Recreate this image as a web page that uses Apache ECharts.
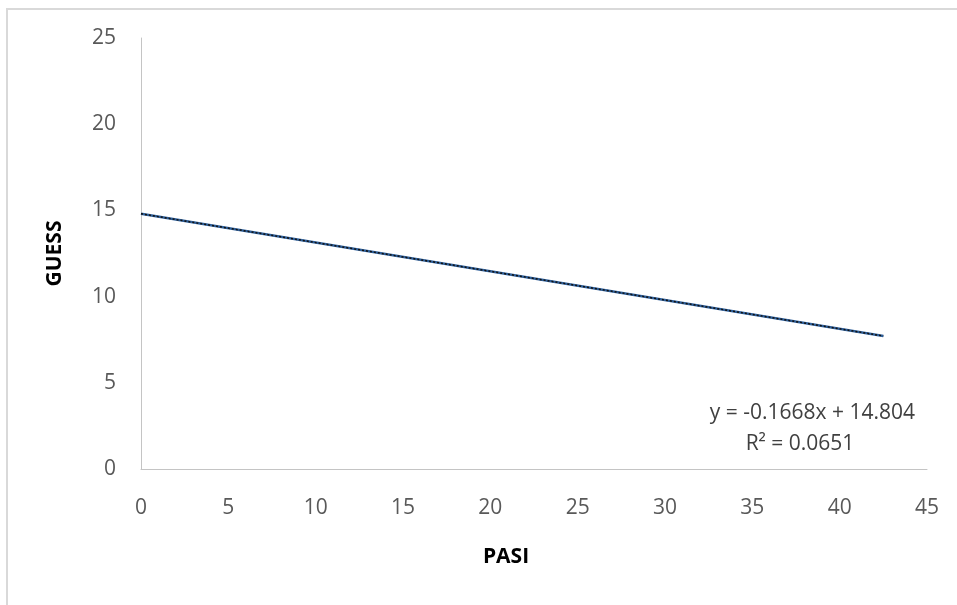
<!DOCTYPE html>
<html><head><meta charset="utf-8">
<script src="https://cdn.jsdelivr.net/npm/echarts@6/dist/echarts.min.js"></script>
<style>html,body{margin:0;padding:0;background:#fff}#c{width:957px;height:605px}</style>
</head><body><div id="c"></div>
<script>
const pasi = [0, 42.5];
const guess = [14.804, 7.715];
const equationText = 'y = -0.1668x + 14.804';
const r2Text = 'R² = 0.0651';
const xTitle = 'PASI';
const yTitle = 'GUESS';

const pts = pasi.map((x, i) => [x, guess[i]]);
const chart = echarts.init(document.getElementById('c'), null, {renderer: 'canvas'});
const font = '"Open Sans", "Liberation Sans", sans-serif';
chart.setOption({
  animation: false,
  backgroundColor: '#fff',
  grid: {left: 141, top: 38, right: 30, bottom: 136},
  xAxis: {
    type: 'value', min: 0, max: 45, interval: 5,
    axisLine: {show: true, lineStyle: {color: '#c4c4c4', width: 1}},
    axisTick: {show: false},
    splitLine: {show: false},
    axisLabel: {color: '#595959', fontSize: 21, fontFamily: font, margin: 29}
  },
  yAxis: {
    type: 'value', min: 0, max: 25, interval: 5,
    axisLine: {show: true, lineStyle: {color: '#c4c4c4', width: 1}},
    axisTick: {show: false},
    splitLine: {show: false},
    axisLabel: {color: '#595959', fontSize: 21, fontFamily: font, margin: 25},
    name: yTitle, nameLocation: 'middle', nameGap: 75, nameRotate: 90,
    nameTextStyle: {color: '#000', fontSize: 21, fontWeight: 'bold', fontFamily: font}
  },
  series: [
    {type: 'line', data: pts, showSymbol: false, lineStyle: {color: '#2e5f9a', width: 2.5}, z: 2},
    {type: 'line', data: pts, showSymbol: false, lineStyle: {color: '#111', width: 1.5, type: [2, 2]}, z: 3}
  ],
  graphic: [
    {type: 'rect', shape: {x: 7, y: 9, width: 970, height: 620}, style: {fill: 'none', stroke: '#d9d9d9', lineWidth: 2}, silent: true, z: -1},
    {type: 'text', x: 506, y: 557, style: {text: xTitle, fill: '#000', fontSize: 21, fontWeight: 'bold', fontFamily: font, align: 'center', verticalAlign: 'middle'}},
    {type: 'text', x: 915, y: 413, style: {text: equationText, fill: '#404040', fontSize: 21, fontFamily: font, align: 'right', verticalAlign: 'middle'}},
    {type: 'text', x: 800, y: 444, style: {text: r2Text, fill: '#404040', fontSize: 21, fontFamily: font, align: 'center', verticalAlign: 'middle'}}
  ]
});
</script></body></html>
